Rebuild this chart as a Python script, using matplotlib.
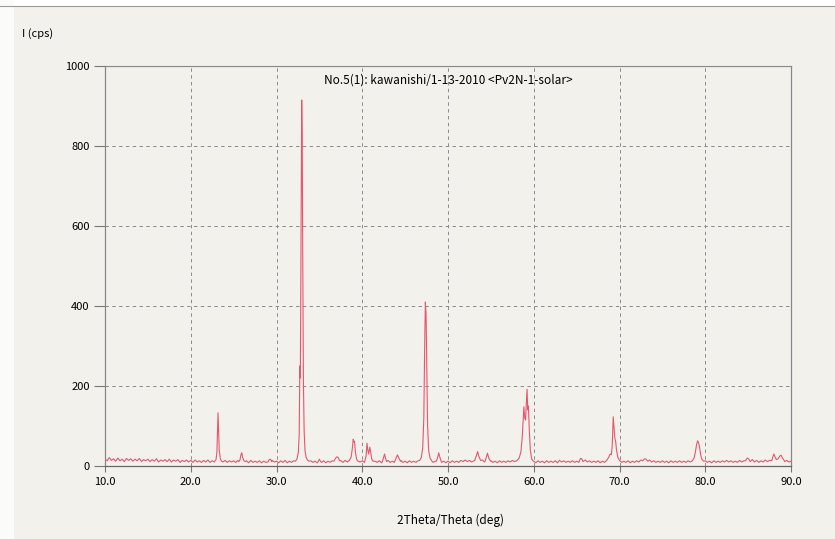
import numpy as np
import matplotlib
matplotlib.use("Agg")
import matplotlib.pyplot as plt
from matplotlib.patches import Rectangle

plt.rcParams['font.family'] = ['Noto Sans CJK JP', 'DejaVu Sans']

# ===========================================
# donnees lues sur le diagramme
# ===========================================

title_text = "No.5(1): kawanishi/1-13-2010 <Pv2N-1-solar>"
x_label = "2Theta/Theta (deg)"
y_label = "I (cps)"
x_ticks = [10.0, 20.0, 30.0, 40.0, 50.0, 60.0, 70.0, 80.0, 90.0]
y_ticks = [0, 200, 400, 600, 800, 1000]

# fond continu, un point tous les 0.25 deg de 10 a 90
baseline_step = 0.25
baseline = [
    18, 13, 21, 14, 18, 12, 20, 13, 17, 11, 19, 14, 18, 12, 17, 13, 19, 11, 16, 13,
    17, 11, 16, 12, 18, 10, 15, 12, 16, 11, 17, 10, 15, 12, 16, 9, 14, 11, 15, 10,
    14, 9, 15, 10, 13, 9, 14, 10, 15, 9, 13, 10, 14, 9, 13, 10, 14, 9, 13, 10,
    13, 9, 14, 10, 13, 9, 13, 8, 14, 9, 12, 9, 13, 8, 12, 9, 13, 9, 14, 10,
    12, 8, 13, 9, 14, 8, 12, 9, 13, 9, 12, 8, 13, 9, 12, 8, 13, 9, 12, 8,
    14, 9, 13, 8, 12, 9, 13, 8, 12, 9, 13, 9, 14, 10, 15, 11, 16, 11, 15, 10,
    13, 9, 14, 10, 13, 9, 12, 9, 13, 8, 12, 9, 14, 9, 12, 9, 13, 10, 14, 9,
    12, 8, 13, 9, 12, 9, 13, 10, 14, 9, 13, 10, 14, 9, 12, 8, 13, 9, 12, 8,
    12, 8, 13, 9, 12, 9, 14, 11, 15, 11, 14, 10, 13, 10, 14, 11, 15, 10, 14, 10,
    13, 9, 12, 8, 13, 9, 12, 9, 13, 10, 14, 11, 15, 12, 16, 13, 17, 13, 13, 9,
    12, 8, 13, 9, 12, 8, 13, 9, 12, 9, 13, 8, 14, 10, 13, 9, 12, 9, 13, 9,
    12, 9, 14, 11, 15, 10, 13, 9, 12, 9, 13, 8, 12, 9, 13, 10, 15, 12, 16, 12,
    13, 9, 12, 9, 13, 8, 12, 9, 13, 10, 15, 11, 16, 12, 15, 10, 13, 9, 12, 9,
    13, 9, 12, 8, 13, 9, 12, 9, 13, 9, 12, 9, 13, 10, 14, 11, 15, 11, 14, 10,
    13, 9, 12, 8, 13, 9, 12, 9, 13, 10, 14, 10, 13, 9, 12, 9, 14, 10, 13, 9,
    15, 11, 16, 10, 14, 9, 13, 10, 15, 11, 14, 9, 13, 10, 14, 11, 15, 11, 14, 10,
    12,
]

# pics (2theta, I)
peak_23 = [(22.8, 12), (22.95, 16), (23.05, 35), (23.12, 90), (23.18, 133), (23.24, 95),
           (23.32, 40), (23.45, 18), (23.6, 12)]
peak_26 = [(25.6, 11), (25.75, 16), (25.85, 28), (25.95, 33), (26.05, 22), (26.2, 13), (26.35, 11)]
peak_29 = [(29.0, 10), (29.15, 16), (29.3, 17), (29.45, 11)]
peak_33 = [(32.2, 12), (32.4, 18), (32.55, 35), (32.65, 80), (32.72, 250), (32.78, 220),
           (32.86, 560), (32.94, 915), (33.0, 820), (33.06, 520), (33.14, 210), (33.22, 90),
           (33.32, 40), (33.45, 22), (33.6, 15), (33.8, 12)]
peak_35 = [(34.85, 11), (35.0, 17), (35.15, 11)]
peak_37 = [(36.7, 12), (36.9, 20), (37.05, 23), (37.2, 21), (37.35, 14)]
peak_39 = [(38.5, 14), (38.7, 22), (38.85, 45), (38.95, 67), (39.02, 60), (39.1, 62),
           (39.2, 35), (39.35, 16), (39.5, 12)]
peak_41 = [(40.3, 12), (40.45, 25), (40.55, 57), (40.65, 40), (40.75, 30), (40.88, 47),
           (40.98, 35), (41.1, 18), (41.25, 12)]
peak_43 = [(42.35, 11), (42.5, 22), (42.6, 30), (42.7, 20), (42.85, 11)]
peak_44 = [(43.8, 12), (43.95, 20), (44.1, 28), (44.25, 21), (44.45, 12)]
peak_47 = [(46.7, 14), (46.9, 22), (47.05, 45), (47.18, 120), (47.28, 300), (47.36, 410),
           (47.44, 380), (47.52, 250), (47.62, 100), (47.75, 38), (47.9, 20), (48.1, 13)]
peak_49 = [(48.65, 12), (48.8, 22), (48.92, 33), (49.05, 22), (49.2, 12)]
peak_53 = [(53.1, 13), (53.3, 25), (53.45, 36), (53.6, 24), (53.8, 14)]
peak_55 = [(54.35, 13), (54.5, 24), (54.6, 32), (54.75, 20), (54.95, 12)]
peak_59 = [(58.0, 13), (58.3, 20), (58.5, 35), (58.65, 70), (58.75, 110), (58.85, 148),
           (58.95, 120), (59.05, 115), (59.12, 150), (59.22, 192), (59.3, 140), (59.38, 150),
           (59.48, 90), (59.6, 40), (59.75, 18), (59.95, 12)]
peak_65 = [(65.3, 11), (65.45, 19), (65.6, 18), (65.75, 11)]
peak_69 = [(68.5, 14), (68.75, 22), (68.9, 30), (69.05, 28), (69.15, 50), (69.27, 123),
           (69.35, 100), (69.45, 70), (69.55, 62), (69.65, 40), (69.8, 22), (70.0, 14)]
peak_73 = [(72.7, 13), (72.9, 18), (73.1, 17), (73.3, 12)]
peak_79 = [(78.5, 13), (78.7, 20), (78.85, 35), (79.0, 55), (79.12, 63), (79.22, 58),
           (79.32, 50), (79.45, 30), (79.6, 17), (79.8, 12)]
peak_85 = [(84.7, 13), (84.9, 20), (85.05, 18), (85.2, 13)]
peak_88 = [(87.75, 13), (87.9, 24), (88.0, 30), (88.15, 22), (88.3, 16), (88.5, 18),
           (88.7, 25), (88.85, 27), (89.0, 20), (89.2, 14)]

peaks = [peak_23, peak_26, peak_29, peak_33, peak_35, peak_37, peak_39, peak_41, peak_43,
         peak_44, peak_47, peak_49, peak_53, peak_55, peak_59, peak_65, peak_69, peak_73,
         peak_79, peak_85, peak_88]

# ===========================================
# assemblage fond + pics
# ===========================================

base_x = 10.0 + baseline_step * np.arange(len(baseline))
base_y = np.array(baseline, dtype=float)
keep = np.ones(len(base_x), dtype=bool)
for pk in peaks:
    lo, hi = pk[0][0], pk[-1][0]
    keep &= ~((base_x >= lo) & (base_x <= hi))

px = np.concatenate([base_x[keep]] + [np.array([p[0] for p in pk]) for pk in peaks])
py = np.concatenate([base_y[keep]] + [np.array([p[1] for p in pk], dtype=float) for pk in peaks])
order = np.argsort(px)
two_theta = px[order]
intensity = py[order]

# ===========================================
# affichage
# ===========================================

paper = "#f3f1ec"
fig = plt.figure(figsize=(8.35, 5.39), dpi=100, facecolor=paper)
# bords blancs du scan
fig.patches.append(Rectangle((0, 1 - 6 / 539), 1, 6 / 539, transform=fig.transFigure,
                             facecolor="white", edgecolor="none", zorder=0))
fig.patches.append(Rectangle((0, 0), 14 / 835, 1, transform=fig.transFigure,
                             facecolor="#fbfbfa", edgecolor="none", zorder=0))
fig.lines.append(plt.Line2D([0, 1], [1 - 6 / 539, 1 - 6 / 539], transform=fig.transFigure,
                            color="#9a9a9a", lw=0.8))

ax = fig.add_axes([105 / 835, 1 - 466 / 539, 686 / 835, 400 / 539])
ax.set_facecolor(paper)
ax.plot(two_theta, intensity, color="#e8566e", lw=0.8)

ax.set_xlim(10, 90)
ax.set_ylim(0, 1000)
ax.set_xticks(x_ticks)
ax.set_xticklabels([f"{t:.1f}" for t in x_ticks])
ax.set_yticks(y_ticks)
ax.set_yticklabels([str(t) for t in y_ticks])
ax.tick_params(axis="y", direction="out", length=8, width=0.8, color="#777777",
               labelsize=8, pad=3)
ax.tick_params(axis="x", direction="out", length=4, width=0.8, color="#777777",
               labelsize=8, pad=4)

ax.grid(True, linestyle=(0, (3.5, 3.5)), color="#8a8a8a", lw=0.7)
ax.axhline(1000, color="#8a8a8a", lw=0.8)
for side in ["left", "bottom", "right"]:
    ax.spines[side].set_color("#888888")
    ax.spines[side].set_linewidth(0.9)
ax.spines["top"].set_color("#8a8a8a")
ax.spines["bottom"].set_color("#666666")

ax.text(0.5, 0.965, title_text, transform=ax.transAxes, ha="center", va="center", fontsize=8.5)
fig.text(22 / 835, 1 - 34 / 539, y_label, ha="left", va="center", fontsize=8)
fig.text(451 / 835, 1 - 520 / 539, x_label, ha="center", va="center", fontsize=8.5)

fig.savefig("out.png", dpi=100, facecolor=paper)
